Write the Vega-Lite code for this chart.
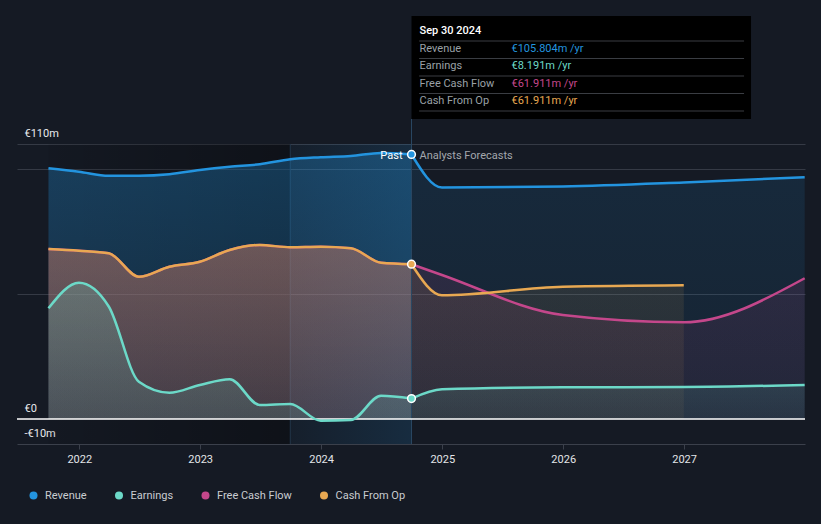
{
  "$schema": "https://vega.github.io/schema/vega-lite/v6.json",
  "width": 788,
  "height": 300,
  "padding": {"left": 17, "top": 144, "right": 16, "bottom": 80},
  "autosize": {"type": "none"},
  "background": "#151a24",
  "config": {
    "view": {"stroke": null},
    "font": "Roboto",
    "text": {"font": "Roboto"},
    "axis": {"labelFont": "Roboto"},
    "legend": {"labelFont": "Roboto"}
  },
  "datasets": {
    "one": [{}],
    "series": [
      {"series": "Revenue", "part": "past", "date": "2021-09-30", "value": 100.3},
      {"series": "Revenue", "part": "past", "date": "2021-12-31", "value": 98.9},
      {"series": "Revenue", "part": "past", "date": "2022-03-31", "value": 97.3},
      {"series": "Revenue", "part": "past", "date": "2022-06-30", "value": 97.3},
      {"series": "Revenue", "part": "past", "date": "2022-09-30", "value": 97.9},
      {"series": "Revenue", "part": "past", "date": "2022-12-31", "value": 99.6},
      {"series": "Revenue", "part": "past", "date": "2023-03-31", "value": 100.9},
      {"series": "Revenue", "part": "past", "date": "2023-06-30", "value": 101.9},
      {"series": "Revenue", "part": "past", "date": "2023-09-30", "value": 103.9},
      {"series": "Revenue", "part": "past", "date": "2023-12-31", "value": 104.7},
      {"series": "Revenue", "part": "past", "date": "2024-03-31", "value": 105.2},
      {"series": "Revenue", "part": "past", "date": "2024-06-30", "value": 106.4},
      {"series": "Revenue", "part": "past", "date": "2024-09-30", "value": 105.804},
      {"series": "Revenue", "part": "fcst", "date": "2024-09-30", "value": 105.804},
      {"series": "Revenue", "part": "fcst", "date": "2024-12-31", "value": 92.6},
      {"series": "Revenue", "part": "fcst", "date": "2025-12-31", "value": 93.0},
      {"series": "Revenue", "part": "fcst", "date": "2026-12-31", "value": 94.6},
      {"series": "Revenue", "part": "fcst", "date": "2027-12-31", "value": 96.7},

      {"series": "Free Cash Flow", "part": "past", "date": "2021-09-30", "value": 68.0},
      {"series": "Free Cash Flow", "part": "past", "date": "2021-12-31", "value": 67.3},
      {"series": "Free Cash Flow", "part": "past", "date": "2022-03-31", "value": 66.3},
      {"series": "Free Cash Flow", "part": "past", "date": "2022-06-30", "value": 56.9},
      {"series": "Free Cash Flow", "part": "past", "date": "2022-09-30", "value": 60.9},
      {"series": "Free Cash Flow", "part": "past", "date": "2022-12-31", "value": 62.9},
      {"series": "Free Cash Flow", "part": "past", "date": "2023-03-31", "value": 67.6},
      {"series": "Free Cash Flow", "part": "past", "date": "2023-06-30", "value": 69.6},
      {"series": "Free Cash Flow", "part": "past", "date": "2023-09-30", "value": 68.7},
      {"series": "Free Cash Flow", "part": "past", "date": "2023-12-31", "value": 68.9},
      {"series": "Free Cash Flow", "part": "past", "date": "2024-03-31", "value": 68.3},
      {"series": "Free Cash Flow", "part": "past", "date": "2024-06-30", "value": 62.5},
      {"series": "Free Cash Flow", "part": "past", "date": "2024-09-30", "value": 61.911},
      {"series": "Free Cash Flow", "part": "fcst", "date": "2024-09-30", "value": 61.911},
      {"series": "Free Cash Flow", "part": "fcst", "date": "2024-12-31", "value": 57.6},
      {"series": "Free Cash Flow", "part": "fcst", "date": "2025-12-31", "value": 41.6},
      {"series": "Free Cash Flow", "part": "fcst", "date": "2026-12-31", "value": 38.7},
      {"series": "Free Cash Flow", "part": "fcst", "date": "2027-12-31", "value": 56.3},

      {"series": "Cash From Op", "part": "past", "date": "2021-09-30", "value": 68.0},
      {"series": "Cash From Op", "part": "past", "date": "2021-12-31", "value": 67.3},
      {"series": "Cash From Op", "part": "past", "date": "2022-03-31", "value": 66.3},
      {"series": "Cash From Op", "part": "past", "date": "2022-06-30", "value": 56.9},
      {"series": "Cash From Op", "part": "past", "date": "2022-09-30", "value": 60.9},
      {"series": "Cash From Op", "part": "past", "date": "2022-12-31", "value": 62.9},
      {"series": "Cash From Op", "part": "past", "date": "2023-03-31", "value": 67.6},
      {"series": "Cash From Op", "part": "past", "date": "2023-06-30", "value": 69.6},
      {"series": "Cash From Op", "part": "past", "date": "2023-09-30", "value": 68.7},
      {"series": "Cash From Op", "part": "past", "date": "2023-12-31", "value": 68.9},
      {"series": "Cash From Op", "part": "past", "date": "2024-03-31", "value": 68.3},
      {"series": "Cash From Op", "part": "past", "date": "2024-06-30", "value": 62.5},
      {"series": "Cash From Op", "part": "past", "date": "2024-09-30", "value": 61.911},
      {"series": "Cash From Op", "part": "fcst", "date": "2024-09-30", "value": 61.911},
      {"series": "Cash From Op", "part": "fcst", "date": "2024-12-31", "value": 49.5},
      {"series": "Cash From Op", "part": "fcst", "date": "2025-12-31", "value": 52.9},
      {"series": "Cash From Op", "part": "fcst", "date": "2026-12-31", "value": 53.5},

      {"series": "Earnings", "part": "past", "date": "2021-09-30", "value": 44.3},
      {"series": "Earnings", "part": "past", "date": "2021-12-31", "value": 54.5},
      {"series": "Earnings", "part": "past", "date": "2022-03-31", "value": 45.0},
      {"series": "Earnings", "part": "past", "date": "2022-06-30", "value": 14.9},
      {"series": "Earnings", "part": "past", "date": "2022-09-30", "value": 10.5},
      {"series": "Earnings", "part": "past", "date": "2022-12-31", "value": 13.6},
      {"series": "Earnings", "part": "past", "date": "2023-03-31", "value": 15.9},
      {"series": "Earnings", "part": "past", "date": "2023-06-30", "value": 5.6},
      {"series": "Earnings", "part": "past", "date": "2023-09-30", "value": 6.0},
      {"series": "Earnings", "part": "past", "date": "2023-12-31", "value": -0.7},
      {"series": "Earnings", "part": "past", "date": "2024-03-31", "value": -0.4},
      {"series": "Earnings", "part": "past", "date": "2024-06-30", "value": 9.3},
      {"series": "Earnings", "part": "past", "date": "2024-09-30", "value": 8.191},
      {"series": "Earnings", "part": "fcst", "date": "2024-09-30", "value": 8.191},
      {"series": "Earnings", "part": "fcst", "date": "2024-12-31", "value": 11.9},
      {"series": "Earnings", "part": "fcst", "date": "2025-12-31", "value": 12.7},
      {"series": "Earnings", "part": "fcst", "date": "2026-12-31", "value": 12.8},
      {"series": "Earnings", "part": "fcst", "date": "2027-12-31", "value": 13.6}
    ],
    "tip": [
      {"row": 0, "label": "Sep 30 2024"},
      {"row": 1, "series": "Revenue", "label": "Revenue", "value": 105.804, "date": "2024-09-30"},
      {"row": 2, "series": "Earnings", "label": "Earnings", "value": 8.191, "date": "2024-09-30"},
      {"row": 3, "series": "Free Cash Flow", "label": "Free Cash Flow", "value": 61.911, "date": "2024-09-30"},
      {"row": 4, "series": "Cash From Op", "label": "Cash From Op", "value": 61.911, "date": "2024-09-30"}
    ]
  },
  "layer": [
    {
      "data": {"name": "series"},
      "transform": [{"filter": "datum.series === 'Revenue' && datum.part === 'past'"}],
      "mark": {"type": "area", "interpolate": "monotone", "opacity": 0},
      "encoding": {
        "x": {"field": "date", "type": "temporal",
          "scale": {"domain": [{"year": 2021, "month": 6, "date": 27}, {"year": 2028, "month": 1, "date": 1}]},
          "axis": {"title": null, "values": [{"year": 2022, "month": 1, "date": 1}, {"year": 2023, "month": 1, "date": 1}, {"year": 2024, "month": 1, "date": 1}, {"year": 2025, "month": 1, "date": 1}, {"year": 2026, "month": 1, "date": 1}, {"year": 2027, "month": 1, "date": 1}],
            "format": "%Y", "grid": false, "domainColor": "#3b404b", "tickColor": "#3b404b", "tickSize": 5, "labelColor": "#e3e5e8", "labelFontSize": 11, "labelPadding": 4, "labelFlush": false}},
        "y": {"field": "value", "type": "quantitative",
          "scale": {"domain": [-10, 110], "nice": false, "zero": false},
          "axis": {"title": null, "values": [-10, 0, 50, 100, 110],
            "labelExpr": "datum.value === 110 ? '€110m' : datum.value === 0 ? '€0' : datum.value === -10 ? '-€10m' : ''",
            "grid": true,
            "gridColor": {"condition": {"test": "datum.value === 0 || datum.value === -10", "value": "transparent"}, "value": "#353a45"},
            "domain": false, "ticks": false, "tickSize": 0,
            "labelAlign": "left", "labelBaseline": "bottom", "labelPadding": -7,
            "labelOffset": -6,
            "labelColor": "#e8eaed", "labelFontSize": 11}},
        "y2": {"datum": 0}
      }
    },
    {
      "data": {"name": "one"},
      "mark": {"type": "rect", "fill": {"gradient": "linear", "x1": 0, "y1": 0, "x2": 1, "y2": 0, "stops": [{"offset": 0, "color": "rgba(0,0,0,0.06)"}, {"offset": 1, "color": "rgba(0,0,0,0.32)"}]}},
      "encoding": {
        "x": {"datum": {"year": 2021, "month": 9, "date": 30}, "type": "temporal"},
        "x2": {"datum": {"year": 2023, "month": 9, "date": 30}},
        "y": {"datum": 110, "type": "quantitative"},
        "y2": {"datum": -10}
      }
    },
    {
      "data": {"name": "one"},
      "mark": {"type": "rect", "fill": {"gradient": "linear", "x1": 0, "y1": 0, "x2": 1, "y2": 0, "stops": [{"offset": 0, "color": "rgba(35,148,223,0.04)"}, {"offset": 1, "color": "rgba(35,148,223,0.15)"}]}},
      "encoding": {
        "x": {"datum": {"year": 2023, "month": 9, "date": 30}, "type": "temporal"},
        "x2": {"datum": {"year": 2024, "month": 9, "date": 30}},
        "y": {"datum": 110, "type": "quantitative"},
        "y2": {"datum": -10}
      }
    },
    {
      "data": {"name": "one"},
      "mark": {"type": "rule", "stroke": "#22364a", "strokeWidth": 1},
      "encoding": {
        "x": {"datum": {"year": 2023, "month": 9, "date": 30}, "type": "temporal"},
        "y": {"datum": 110, "type": "quantitative"},
        "y2": {"datum": -10}
      }
    },
    {
      "data": {"name": "series"},
      "transform": [{"filter": "datum.series === 'Revenue' && datum.part === 'past'"}],
      "mark": {"type": "area", "interpolate": "monotone", "fill": {"gradient": "linear", "x1": 0, "y1": 0, "x2": 0, "y2": 1, "stops": [{"offset": 0, "color": "rgba(35,148,223,0.31)"}, {"offset": 1, "color": "rgba(35,148,223,0.15)"}]}},
      "encoding": {"x": {"field": "date", "type": "temporal"}, "y": {"field": "value", "type": "quantitative"}, "y2": {"datum": 0}}
    },
    {
      "data": {"name": "series"},
      "transform": [{"filter": "datum.series === 'Revenue' && datum.part === 'fcst'"}],
      "mark": {"type": "area", "interpolate": "monotone", "fill": {"gradient": "linear", "x1": 0, "y1": 0, "x2": 0, "y2": 1, "stops": [{"offset": 0, "color": "rgba(35,148,223,0.13)"}, {"offset": 1, "color": "rgba(35,148,223,0.08)"}]}},
      "encoding": {"x": {"field": "date", "type": "temporal"}, "y": {"field": "value", "type": "quantitative"}, "y2": {"datum": 0}}
    },
    {
      "data": {"name": "series"},
      "transform": [{"filter": "datum.series === 'Free Cash Flow' && datum.part === 'past'"}],
      "mark": {"type": "area", "interpolate": "monotone", "fill": {"gradient": "linear", "x1": 0, "y1": 0, "x2": 0, "y2": 1, "stops": [{"offset": 0, "color": "rgba(196,71,139,0.23)"}, {"offset": 1, "color": "rgba(196,71,139,0.13)"}]}},
      "encoding": {"x": {"field": "date", "type": "temporal"}, "y": {"field": "value", "type": "quantitative"}, "y2": {"datum": 0}}
    },
    {
      "data": {"name": "series"},
      "transform": [{"filter": "datum.series === 'Free Cash Flow' && datum.part === 'fcst'"}],
      "mark": {"type": "area", "interpolate": "monotone", "fill": {"gradient": "linear", "x1": 0, "y1": 0, "x2": 0, "y2": 1, "stops": [{"offset": 0, "color": "rgba(196,71,139,0.13)"}, {"offset": 1, "color": "rgba(196,71,139,0.07)"}]}},
      "encoding": {"x": {"field": "date", "type": "temporal"}, "y": {"field": "value", "type": "quantitative"}, "y2": {"datum": 0}}
    },
    {
      "data": {"name": "series"},
      "transform": [{"filter": "datum.series === 'Cash From Op' && datum.part === 'past'"}],
      "mark": {"type": "area", "interpolate": "monotone", "fill": {"gradient": "linear", "x1": 0, "y1": 0, "x2": 0, "y2": 1, "stops": [{"offset": 0, "color": "rgba(232,168,82,0.27)"}, {"offset": 1, "color": "rgba(232,168,82,0.13)"}]}},
      "encoding": {"x": {"field": "date", "type": "temporal"}, "y": {"field": "value", "type": "quantitative"}, "y2": {"datum": 0}}
    },
    {
      "data": {"name": "series"},
      "transform": [{"filter": "datum.series === 'Cash From Op' && datum.part === 'fcst'"}],
      "mark": {"type": "area", "interpolate": "monotone", "fill": {"gradient": "linear", "x1": 0, "y1": 0, "x2": 0, "y2": 1, "stops": [{"offset": 0, "color": "rgba(232,168,82,0.11)"}, {"offset": 1, "color": "rgba(232,168,82,0.06)"}]}},
      "encoding": {"x": {"field": "date", "type": "temporal"}, "y": {"field": "value", "type": "quantitative"}, "y2": {"datum": 0}}
    },
    {
      "data": {"name": "series"},
      "transform": [{"filter": "datum.series === 'Earnings' && datum.part === 'past'"}],
      "mark": {"type": "area", "interpolate": "monotone", "fill": {"gradient": "linear", "x1": 0, "y1": 0, "x2": 0, "y2": 1, "stops": [{"offset": 0, "color": "rgba(108,217,200,0.22)"}, {"offset": 1, "color": "rgba(108,217,200,0.12)"}]}},
      "encoding": {"x": {"field": "date", "type": "temporal"}, "y": {"field": "value", "type": "quantitative"}, "y2": {"datum": 0}}
    },
    {
      "data": {"name": "series"},
      "transform": [{"filter": "datum.series === 'Earnings' && datum.part === 'fcst'"}],
      "mark": {"type": "area", "interpolate": "monotone", "fill": {"gradient": "linear", "x1": 0, "y1": 0, "x2": 0, "y2": 1, "stops": [{"offset": 0, "color": "rgba(108,217,200,0.13)"}, {"offset": 1, "color": "rgba(108,217,200,0.08)"}]}},
      "encoding": {"x": {"field": "date", "type": "temporal"}, "y": {"field": "value", "type": "quantitative"}, "y2": {"datum": 0}}
    },
    {
      "data": {"name": "one"},
      "mark": {"type": "rule", "stroke": "#2a4763", "strokeWidth": 1},
      "encoding": {
        "x": {"datum": {"year": 2024, "month": 9, "date": 30}, "type": "temporal"},
        "y": {"datum": 120, "type": "quantitative"},
        "y2": {"datum": -10}
      }
    },
    {
      "data": {"name": "one"},
      "mark": {"type": "rule", "stroke": "#ffffff", "strokeWidth": 1.5},
      "encoding": {"y": {"datum": 0, "type": "quantitative"}}
    },
    {
      "data": {"name": "series"},
      "transform": [{"filter": "datum.part === 'past'"}],
      "mark": {"type": "line", "interpolate": "monotone", "strokeWidth": 2.5},
      "encoding": {
        "x": {"field": "date", "type": "temporal"},
        "y": {"field": "value", "type": "quantitative"},
        "stroke": {"field": "series", "type": "nominal", "legend": null,
          "scale": {"range": ["#e8a852", "#6cd9c8", "#c4478b", "#2394df"]}}
      }
    },
    {
      "data": {"name": "series"},
      "transform": [{"filter": "datum.part === 'fcst'"}],
      "mark": {"type": "line", "interpolate": "monotone", "strokeWidth": 2.5},
      "encoding": {
        "x": {"field": "date", "type": "temporal"},
        "y": {"field": "value", "type": "quantitative"},
        "stroke": {"field": "series", "type": "nominal", "legend": null}
      }
    },
    {
      "data": {"name": "tip"},
      "transform": [{"filter": "datum.row > 0 && datum.series !== 'Free Cash Flow'"}],
      "mark": {"type": "point", "filled": true, "size": 60, "opacity": 1, "stroke": "#ffffff", "strokeWidth": 1.5},
      "encoding": {
        "x": {"field": "date", "type": "temporal"},
        "y": {"field": "value", "type": "quantitative"},
        "color": {"field": "series", "type": "nominal",
          "scale": {"domain": ["Revenue", "Earnings", "Free Cash Flow", "Cash From Op"], "range": ["#2394df", "#6cd9c8", "#c4478b", "#e8a852"]},
          "legend": {"orient": "none", "legendX": 11, "legendY": 346, "direction": "horizontal", "title": null,
            "symbolType": "circle", "symbolSize": 64, "symbolStrokeWidth": 0, "symbolOpacity": 1,
            "labelColor": "#c9ccd1", "labelFontSize": 11, "labelOffset": 6, "columnPadding": 26.5, "gridAlign": "none", "padding": 0}}
      }
    },
    {
      "data": {"name": "one"},
      "mark": {"type": "text", "align": "right", "baseline": "middle", "dx": -9, "fill": "#ffffff", "fontSize": 11},
      "encoding": {
        "x": {"datum": {"year": 2024, "month": 9, "date": 30}, "type": "temporal"},
        "y": {"datum": 105.3, "type": "quantitative"},
        "text": {"value": "Past"}
      }
    },
    {
      "data": {"name": "one"},
      "mark": {"type": "text", "align": "left", "baseline": "middle", "dx": 8, "fill": "#a3a7ad", "fontSize": 11},
      "encoding": {
        "x": {"datum": {"year": 2024, "month": 9, "date": 30}, "type": "temporal"},
        "y": {"datum": 105.3, "type": "quantitative"},
        "text": {"value": "Analysts Forecasts"}
      }
    },
    {
      "data": {"name": "one"},
      "mark": {"type": "rect", "fill": "#000000"},
      "encoding": {
        "x": {"datum": {"year": 2024, "month": 9, "date": 30}, "type": "temporal"},
        "x2": {"datum": {"year": 2027, "month": 7, "date": 22}},
        "y": {"datum": 161.2, "type": "quantitative"},
        "y2": {"datum": 120}
      }
    },
    {
      "data": {"name": "tip"},
      "transform": [{"calculate": "155.2 - 7 * datum.row", "as": "ty"}],
      "mark": {"type": "rule", "stroke": "#3a3d43", "strokeWidth": 1, "yOffset": 10},
      "encoding": {
        "x": {"datum": {"year": 2024, "month": 10, "date": 23}, "type": "temporal"},
        "x2": {"datum": {"year": 2027, "month": 7, "date": 1}},
        "y": {"field": "ty", "type": "quantitative"}
      }
    },
    {
      "data": {"name": "tip"},
      "transform": [{"filter": "datum.row === 0"}, {"calculate": "155.2 - 7 * datum.row", "as": "ty"}],
      "mark": {"type": "text", "align": "left", "baseline": "middle", "dx": 8, "fill": "#ffffff", "fontSize": 11, "fontWeight": 500},
      "encoding": {
        "x": {"datum": {"year": 2024, "month": 9, "date": 30}, "type": "temporal"},
        "y": {"field": "ty", "type": "quantitative"},
        "text": {"field": "label"}
      }
    },
    {
      "data": {"name": "tip"},
      "transform": [{"filter": "datum.row > 0"}, {"calculate": "155.2 - 7 * datum.row", "as": "ty"}],
      "mark": {"type": "text", "align": "left", "baseline": "middle", "dx": 8, "fill": "#9aa0a6", "fontSize": 11},
      "encoding": {
        "x": {"datum": {"year": 2024, "month": 9, "date": 30}, "type": "temporal"},
        "y": {"field": "ty", "type": "quantitative"},
        "text": {"field": "label"}
      }
    },
    {
      "data": {"name": "tip"},
      "transform": [{"filter": "datum.row > 0"}, {"calculate": "155.2 - 7 * datum.row", "as": "ty"}, {"calculate": "'€' + format(datum.value, '.3f') + 'm /yr'", "as": "txt"}],
      "mark": {"type": "text", "align": "left", "baseline": "middle", "dx": 100, "fontSize": 11},
      "encoding": {
        "x": {"datum": {"year": 2024, "month": 9, "date": 30}, "type": "temporal"},
        "y": {"field": "ty", "type": "quantitative"},
        "text": {"field": "txt"},
        "fill": {"field": "series", "type": "nominal", "legend": null,
          "scale": {"range": ["#e8a852", "#6cd9c8", "#c4478b", "#2394df"]}}
      }
    }
  ]
}
